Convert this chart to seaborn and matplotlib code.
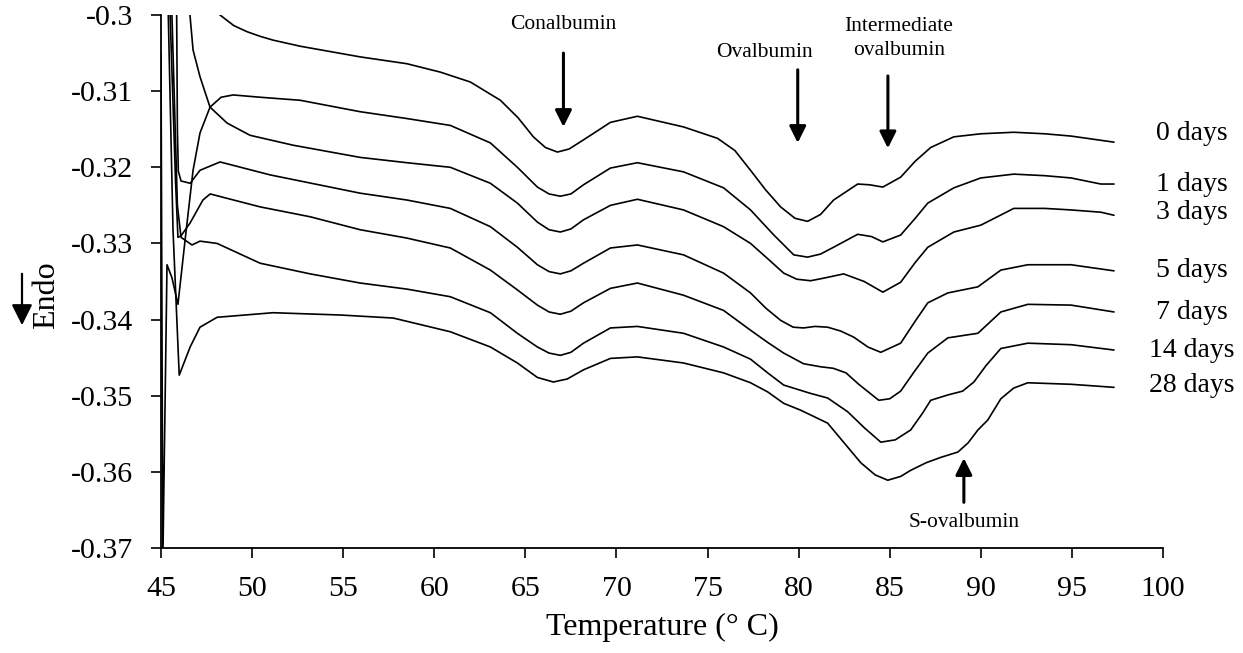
import matplotlib
matplotlib.use("Agg")
import matplotlib.pyplot as plt
import seaborn as sns
import pandas as pd

# ---------------- data ----------------
day_labels = ["0 days", "1 days", "3 days", "5 days", "7 days", "14 days", "28 days"]

temp_0 = [47.5, 48.24, 49.0, 49.73, 50.44, 51.15, 52.64, 55.93, 58.5, 60.33, 61.98, 63.63, 64.6,
          65.44, 66.1, 66.76, 67.4, 68.19, 69.67, 71.15, 73.68, 75.55, 76.5, 77.36, 78.2, 79.01,
          79.8, 80.49, 81.2, 81.92, 83.24, 83.9, 84.62, 85.60, 86.4, 87.25, 88.52, 90.0, 91.81,
          93.5, 94.95, 97.31]
heat_0 = [-0.2975, -0.3000, -0.3014, -0.3022, -0.3028, -0.3033, -0.3041, -0.3055, -0.3064,
          -0.3075, -0.3088, -0.3112, -0.3135, -0.3160, -0.3174, -0.3180, -0.3176, -0.3164,
          -0.3141, -0.3133, -0.3147, -0.3162, -0.3178, -0.3204, -0.3230, -0.3252, -0.3267,
          -0.3271, -0.3262, -0.3243, -0.3222, -0.3223, -0.3226, -0.3213, -0.3192, -0.3174,
          -0.3160, -0.3156, -0.3154, -0.3156, -0.3159, -0.3167]

temp_1 = [45.0, 45.1, 45.33, 45.6, 45.93, 46.32, 46.76, 47.14, 47.69, 48.3, 48.96, 50.44, 52.64,
          55.93, 58.5, 60.88, 63.08, 64.56, 65.66, 66.3, 66.92, 67.5, 68.19, 69.67, 71.15, 73.68,
          75.88, 77.36, 78.6, 79.73, 80.49, 81.2, 81.92, 83.24, 84.0, 84.62, 85.60, 86.4, 87.09,
          88.52, 90.0, 91.81, 93.5, 94.95, 96.59, 97.31]
heat_1 = [-0.3050, -0.3720, -0.3328, -0.3345, -0.3380, -0.3296, -0.3204, -0.3155, -0.3121,
          -0.3108, -0.3105, -0.3108, -0.3112, -0.3127, -0.3136, -0.3145, -0.3168, -0.3200,
          -0.3226, -0.3235, -0.3238, -0.3235, -0.3223, -0.3201, -0.3194, -0.3206, -0.3227,
          -0.3256, -0.3288, -0.3315, -0.3318, -0.3314, -0.3305, -0.3288, -0.3291, -0.3298,
          -0.3289, -0.3267, -0.3247, -0.3227, -0.3214, -0.3209, -0.3211, -0.3214, -0.3222,
          -0.3222]

temp_3 = [46.45, 46.59, 46.76, 47.14, 47.69, 48.63, 49.89, 52.25, 55.93, 58.5, 60.88, 63.08,
          64.56, 65.66, 66.3, 66.92, 67.5, 68.19, 69.67, 71.15, 73.68, 75.88, 77.36, 78.3, 79.18,
          79.9, 80.66, 81.5, 82.47, 83.6, 84.62, 85.60, 86.4, 87.09, 88.52, 90.0, 91.81, 93.5,
          94.95, 96.59, 97.31]
heat_3 = [-0.2960, -0.3000, -0.3046, -0.3081, -0.3121, -0.3142, -0.3158, -0.3171, -0.3187,
          -0.3194, -0.3200, -0.3221, -0.3247, -0.3272, -0.3282, -0.3285, -0.3281, -0.3269,
          -0.3250, -0.3242, -0.3256, -0.3278, -0.3300, -0.3320, -0.3339, -0.3347, -0.3349,
          -0.3345, -0.3340, -0.3350, -0.3364, -0.3351, -0.3325, -0.3305, -0.3285, -0.3276,
          -0.3254, -0.3254, -0.3256, -0.3259, -0.3263]

temp_5 = [45.80, 45.86, 45.90, 45.95, 46.10, 46.60, 47.14, 48.24, 50.99, 55.93, 58.5, 60.88,
          63.08, 64.56, 65.66, 66.3, 66.92, 67.5, 68.19, 69.67, 71.15, 73.68, 75.88, 77.36, 78.2,
          79.01, 79.7, 80.27, 80.9, 81.59, 82.3, 83.02, 83.8, 84.51, 85.60, 86.4, 87.09, 88.19,
          89.84, 91.10, 92.58, 94.95, 97.31]
heat_5 = [-0.2960, -0.3000, -0.3150, -0.3205, -0.3218, -0.3221, -0.3204, -0.3193, -0.3210,
          -0.3234, -0.3243, -0.3254, -0.3278, -0.3305, -0.3328, -0.3337, -0.3340, -0.3336,
          -0.3326, -0.3306, -0.3302, -0.3315, -0.3339, -0.3365, -0.3385, -0.3401, -0.3410,
          -0.3411, -0.3409, -0.3410, -0.3415, -0.3423, -0.3436, -0.3443, -0.3431, -0.3402,
          -0.3378, -0.3365, -0.3357, -0.3335, -0.3328, -0.3328, -0.3336]

temp_7 = [45.40, 45.50, 45.80, 45.93, 46.10, 46.60, 47.30, 47.70, 48.5, 50.44, 53.19, 55.93,
          58.5, 60.88, 63.08, 64.56, 65.66, 66.3, 66.92, 67.5, 68.19, 69.67, 71.15, 73.68, 75.88,
          77.36, 78.3, 79.18, 80.27, 81.21, 81.9, 82.6, 83.3, 84.40, 85.0, 85.60, 86.3, 87.09,
          88.19, 89.84, 91.10, 92.58, 94.95, 97.31]
heat_7 = [-0.2960, -0.3000, -0.3220, -0.3292, -0.3290, -0.3273, -0.3243, -0.3235, -0.3240,
          -0.3252, -0.3265, -0.3282, -0.3293, -0.3306, -0.3335, -0.3361, -0.3381, -0.3390,
          -0.3393, -0.3389, -0.3378, -0.3359, -0.3352, -0.3368, -0.3388, -0.3414, -0.3430,
          -0.3444, -0.3458, -0.3462, -0.3464, -0.3470, -0.3485, -0.3506, -0.3504, -0.3494,
          -0.3470, -0.3444, -0.3424, -0.3418, -0.3390, -0.3380, -0.3381, -0.3390]

temp_14 = [45.50, 45.60, 45.90, 46.10, 46.70, 47.14, 48.08, 50.44, 53.19, 55.93, 58.5, 60.88,
           63.08, 64.56, 65.66, 66.3, 66.92, 67.5, 68.19, 69.67, 71.15, 73.68, 75.88, 77.36, 78.3,
           79.18, 80.66, 81.59, 82.69, 83.6, 84.51, 85.3, 86.15, 86.8, 87.25, 88.19, 89.0, 89.62,
           90.3, 91.10, 92.58, 94.95, 97.31]
heat_14 = [-0.2960, -0.3000, -0.3250, -0.3292, -0.3302, -0.3297, -0.3300, -0.3326, -0.3340,
           -0.3352, -0.3360, -0.3370, -0.3391, -0.3418, -0.3436, -0.3444, -0.3447, -0.3443,
           -0.3431, -0.3411, -0.3409, -0.3418, -0.3436, -0.3452, -0.3470, -0.3486, -0.3497,
           -0.3503, -0.3521, -0.3542, -0.3561, -0.3558, -0.3545, -0.3523, -0.3506, -0.3499,
           -0.3494, -0.3482, -0.3460, -0.3438, -0.3431, -0.3433, -0.3440]

temp_28 = [45.30, 45.40, 45.66, 46.00, 46.60, 47.14, 48.08, 51.15, 54.84, 57.75, 60.88, 63.08,
           64.56, 65.66, 66.54, 67.3, 68.19, 69.67, 71.15, 73.68, 75.88, 77.36, 78.3, 79.18, 80.11,
           81.59, 82.5, 83.41, 84.2, 84.89, 85.6, 86.15, 87.0, 87.80, 88.74, 89.3, 89.84, 90.38,
           91.10, 91.8, 92.58, 94.95, 97.31]
heat_28 = [-0.2960, -0.3000, -0.3283, -0.3473, -0.3436, -0.3410, -0.3397, -0.3391, -0.3394,
           -0.3398, -0.3416, -0.3436, -0.3457, -0.3476, -0.3482, -0.3478, -0.3466, -0.3451,
           -0.3449, -0.3457, -0.3470, -0.3483, -0.3495, -0.3510, -0.3519, -0.3536, -0.3562,
           -0.3588, -0.3604, -0.3611, -0.3606, -0.3598, -0.3588, -0.3581, -0.3574, -0.3562,
           -0.3545, -0.3532, -0.3504, -0.3490, -0.3483, -0.3485, -0.3489]

x_ticks = [45, 50, 55, 60, 65, 70, 75, 80, 85, 90, 95, 100]
y_ticks = [-0.37, -0.36, -0.35, -0.34, -0.33, -0.32, -0.31, -0.3]

peak_names = ["Conalbumin", "Ovalbumin", "Intermediate\novalbumin", "S-ovalbumin"]

# ---------------- layout ----------------
series = [(temp_0, heat_0), (temp_1, heat_1), (temp_3, heat_3), (temp_5, heat_5),
          (temp_7, heat_7), (temp_14, heat_14), (temp_28, heat_28)]
label_y = [-0.3155, -0.3222, -0.3260, -0.3335, -0.3391, -0.3440, -0.3486]

sns.set_style("ticks")
plt.rcParams["font.family"] = ["Liberation Serif", "DejaVu Serif"]
plt.rcParams["axes.unicode_minus"] = False
plt.rcParams["text.color"] = "black"
plt.rcParams["axes.labelcolor"] = "black"

fig = plt.figure(figsize=(12.43, 6.53), dpi=100)
ax = fig.add_axes([161 / 1243, 1 - 548 / 653, (1163 - 161) / 1243, (548 - 15) / 653])

for (t, h), lab in zip(series, day_labels):
    df = pd.DataFrame({"Temperature": t, "Heat": h})
    sns.lineplot(data=df, x="Temperature", y="Heat", ax=ax, color="black", lw=1.2,
                 sort=False, estimator=None)

ax.set_xlim(45, 100)
ax.set_ylim(-0.37, -0.3)
ax.set_xticks(x_ticks)
ax.set_yticks(y_ticks)
ax.set_xticklabels([str(v) for v in x_ticks])
ax.set_yticklabels(["%g" % v for v in y_ticks])
ax.tick_params(axis="both", direction="out", length=7, width=1.2, labelsize=21.5,
               colors="black", pad=13)
for s in ["top", "right"]:
    ax.spines[s].set_visible(False)
for s in ["left", "bottom"]:
    ax.spines[s].set_linewidth(1.3)
    ax.spines[s].set_color("black")
ax.set_xlabel("Temperature (° C)", fontsize=23, labelpad=8)
ax.set_ylabel("")

for lab, yy in zip(day_labels, label_y):
    ax.text(101.6, yy, lab, ha="center", va="center", fontsize=20, clip_on=False)

arrow_kw = dict(arrowstyle="-|>,head_length=1.0,head_width=0.5", color="black", lw=2.2,
                shrinkA=0, shrinkB=0)
# Conalbumin
ax.annotate("", xy=(67.09, -0.3147), xytext=(67.09, -0.3050), arrowprops=arrow_kw)
ax.text(67.1, -0.3013, peak_names[0], ha="center", va="center", fontsize=15.5)
# Ovalbumin
ax.annotate("", xy=(79.95, -0.3168), xytext=(79.95, -0.3072), arrowprops=arrow_kw)
ax.text(78.1, -0.3049, peak_names[1], ha="center", va="center", fontsize=15.5)
# Intermediate ovalbumin
ax.annotate("", xy=(84.9, -0.3175), xytext=(84.9, -0.3080), arrowprops=arrow_kw)
ax.text(85.5, -0.3031, peak_names[2], ha="center", va="center", fontsize=15.5,
        linespacing=1.35)
# S-ovalbumin
ax.annotate("", xy=(89.07, -0.3582), xytext=(89.07, -0.3640), arrowprops=arrow_kw)
ax.text(89.1, -0.3666, peak_names[3], ha="center", va="center", fontsize=15.5)

# Endo label with arrow
fig.text(47 / 1243, 1 - 295 / 653, "Endo", rotation=90, ha="center", va="center", fontsize=23)
fig.patches.append(matplotlib.patches.FancyArrowPatch(
    (22 / 1243, 1 - 271 / 653), (22 / 1243, 1 - 328 / 653), transform=fig.transFigure,
    arrowstyle="-|>,head_length=0.9,head_width=0.45", color="black", lw=1.6,
    mutation_scale=14))

fig.savefig("out.png", dpi=100)
